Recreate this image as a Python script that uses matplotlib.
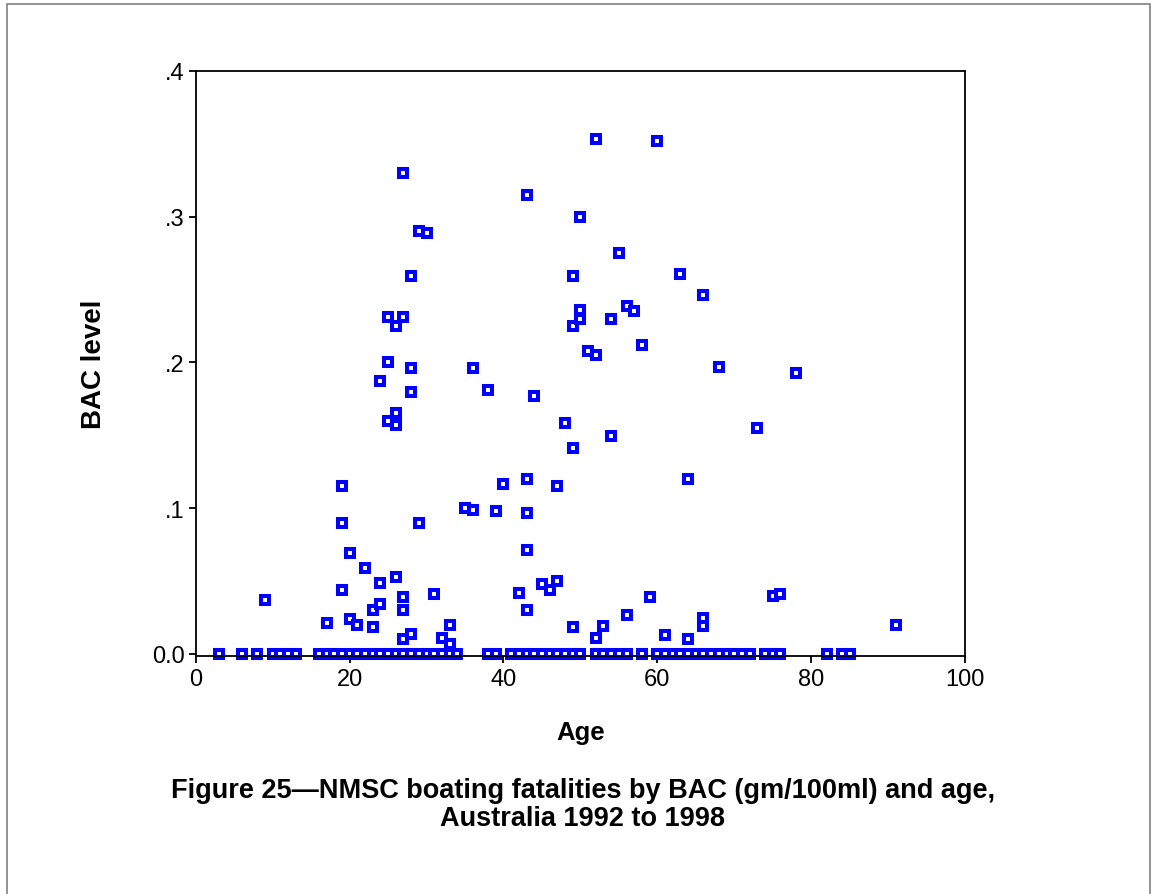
import matplotlib
matplotlib.use("Agg")
import matplotlib.pyplot as plt
from matplotlib.patches import Rectangle

plt.rcParams['font.family'] = ['Liberation Sans', 'DejaVu Sans']

# Fatalities with a BAC of zero, by age
zero_ages = [3, 6, 8, 10, 11, 12, 13,
             16, 17, 18, 19, 20, 21, 22, 23, 24, 25, 26, 27, 28, 29, 30,
             31, 32, 33, 34, 38, 39, 41, 42, 43, 44, 45, 46, 47, 48, 49, 50,
             52, 53, 54, 55, 56, 58, 60, 61, 62, 63, 64, 65, 66, 67, 68, 69,
             70, 71, 72, 74, 75, 76, 82, 84, 85]

# Fatalities with a positive BAC
pos_ages = [9, 17, 19, 19, 19, 20, 20, 21, 22, 23, 23, 24, 24, 24,
            25, 25, 25, 26, 26, 26, 26, 27, 27, 27, 27, 27,
            28, 28, 28, 28, 29, 29, 30, 31, 32, 33, 33, 35, 36, 36,
            38, 39, 40, 42, 43, 43, 43, 43, 43, 44, 45, 46, 47, 47, 48,
            49, 49, 49, 49, 50, 50, 50, 51, 52, 52, 52, 53, 54, 54, 55,
            56, 56, 57, 58, 59, 60, 61, 63, 64, 64, 66, 66, 66, 68,
            73, 75, 76, 78, 91]
pos_bac = [0.037, 0.021, 0.115, 0.090, 0.044, 0.069, 0.024, 0.020, 0.059,
           0.030, 0.0185, 0.187, 0.049, 0.034,
           0.231, 0.200, 0.160, 0.225, 0.1655, 0.157, 0.053,
           0.330, 0.231, 0.039, 0.030, 0.0105,
           0.259, 0.196, 0.180, 0.0135, 0.290, 0.090, 0.2885, 0.041, 0.011,
           0.0196, 0.0068, 0.100, 0.196, 0.099,
           0.181, 0.098, 0.1165, 0.042, 0.315, 0.120, 0.0966, 0.0713, 0.030,
           0.177, 0.0477, 0.0437, 0.115, 0.0504, 0.1586,
           0.259, 0.225, 0.1415, 0.0185, 0.300, 0.236, 0.230, 0.208,
           0.3535, 0.205, 0.0107, 0.0195, 0.230, 0.1495, 0.275,
           0.2386, 0.0265, 0.235, 0.2118, 0.0394, 0.352, 0.0132, 0.2608,
           0.120, 0.0103, 0.246, 0.0244, 0.019, 0.197,
           0.1548, 0.0399, 0.041, 0.193, 0.0198]

ages = zero_ages + pos_ages
bac = [0.0] * len(zero_ages) + pos_bac

xticks = [0, 20, 40, 60, 80, 100]
yticks = [0.0, 0.1, 0.2, 0.3, 0.4]
ytick_labels = ["0.0", ".1", ".2", ".3", ".4"]

title_lines = ["Figure 25\u2014NMSC boating fatalities by BAC (gm/100ml) and age,",
               "Australia 1992 to 1998"]

W, H = 1152, 895
fig = plt.figure(figsize=(W / 100, H / 100), dpi=100)
ax = fig.add_axes([0.1699, 0.2654, 0.6678, 0.6542])

ax.plot(ages, bac, linestyle="none", marker="s", markersize=5.8,
        markerfacecolor="white", markeredgecolor="#0000ff",
        markeredgewidth=2.9, clip_on=False)

ax.set_xlim(0, 100)
ax.set_ylim(-0.0017, 0.4)
ax.set_xticks(xticks)
ax.set_yticks(yticks)
ax.set_yticklabels(ytick_labels)
ax.tick_params(direction="out", length=5, width=1.3, labelsize=17, pad=3)
for sp in ax.spines.values():
    sp.set_linewidth(1.3)

ax.set_xlabel("Age", fontsize=18.5, fontweight="bold", labelpad=22)
ax.set_ylabel("BAC level", fontsize=20, fontweight="bold", labelpad=32)

fig.text(583 / W, 1 - 798 / H, title_lines[0], ha="center", va="baseline",
         fontsize=19.5, fontweight="bold")
fig.text(583 / W, 1 - 826 / H, title_lines[1], ha="center", va="baseline",
         fontsize=19.5, fontweight="bold")

# outer frame around the figure
fig.add_artist(Rectangle((7 / W, -0.1), (1150 - 7) / W, 1.1 - 5 / H,
                         transform=fig.transFigure, fill=False,
                         edgecolor="#808080", linewidth=1.2))

fig.savefig("out.png", dpi=100)
